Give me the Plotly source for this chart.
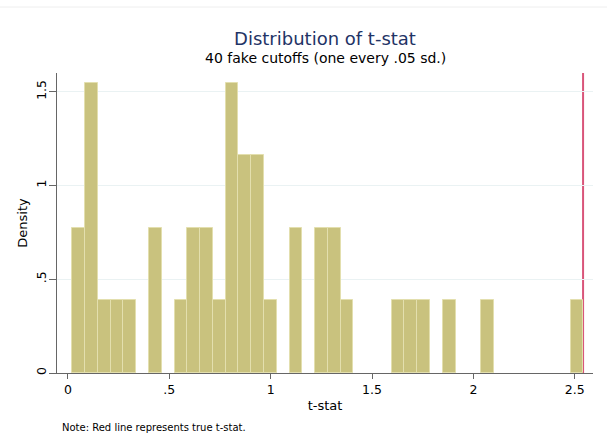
import numpy as np
import plotly.graph_objects as go

# Histogram of the 41 t-statistics: 40 bins starting at 0.022, width 0.063
bin_start = 0.022
bin_width = 0.063
density = [
    0.774, 1.548, 0.387, 0.387, 0.387, 0.0, 0.774, 0.0, 0.387, 0.774,
    0.774, 0.387, 1.548, 1.161, 1.161, 0.387, 0.0, 0.774, 0.0, 0.774,
    0.774, 0.387, 0.0, 0.0, 0.0, 0.387, 0.387, 0.387, 0.0, 0.387,
    0.0, 0.0, 0.387, 0.0, 0.0, 0.0, 0.0, 0.0, 0.0, 0.387,
]
true_tstat = 2.541

x_ticks = [0, 0.5, 1, 1.5, 2, 2.5]
x_ticklabels = ["0", ".5", "1", "1.5", "2", "2.5"]
y_ticks = [0, 0.5, 1, 1.5]
y_ticklabels = ["0", ".5", "1", "1.5"]

centers = bin_start + bin_width * (np.arange(len(density)) + 0.5)
heights = [d if d > 0 else None for d in density]

FONT = "DejaVu Sans, sans-serif"

fig = go.Figure()
fig.add_trace(go.Bar(
    x=centers, y=heights, width=bin_width,
    marker=dict(color="#c9c27e", line=dict(color="#e3dfae", width=1)),
    showlegend=False, hoverinfo="x+y",
))

# true t-stat marker
fig.add_shape(type="line", x0=true_tstat, x1=true_tstat, y0=0, y1=1,
              xref="x", yref="paper", layer="below",
              line=dict(color="#d9557a", width=2))
# thin rule across the top of the page
fig.add_shape(type="line", x0=-57 / 536, x1=1 + 14 / 536, y0=1.22, y1=1.22,
              xref="paper", yref="paper",
              line=dict(color="#eeeeee", width=1))

fig.update_layout(
    width=607, height=439,
    margin=dict(l=57, r=14, t=73, b=66),
    paper_bgcolor="white", plot_bgcolor="white",
    bargap=0,
    font=dict(family=FONT, color="#000000", size=13),
    title=dict(text="Distribution of t-stat", x=0.5, xref="paper",
               y=1 - 38.5 / 439, yref="container", yanchor="middle",
               xanchor="center",
               font=dict(family=FONT, size=18, color="#1f3466")),
    annotations=[
        dict(text="40 fake cutoffs (one every .05 sd.)", x=0.5, y=1.05,
             xref="paper", yref="paper", showarrow=False,
             xanchor="center", yanchor="middle",
             font=dict(family=FONT, size=14, color="#000000")),
        dict(text="Note: Red line represents true t-stat.", x=0.006, y=-0.183,
             xref="paper", yref="paper", showarrow=False,
             xanchor="left", yanchor="middle",
             font=dict(family=FONT, size=10, color="#000000")),
    ],
    xaxis=dict(
        range=[-0.054, 2.59], tickvals=x_ticks, ticktext=x_ticklabels,
        showgrid=False, zeroline=False,
        showline=True, linecolor="#666666", linewidth=1,
        ticks="outside", ticklen=5, tickcolor="#666666",
        tickfont=dict(size=12.5),
        title=dict(text="t-stat", font=dict(size=13), standoff=4),
    ),
    yaxis=dict(
        range=[0, 1.6], tickvals=y_ticks, ticktext=y_ticklabels,
        showgrid=True, gridcolor="#eaf2f3", gridwidth=1, zeroline=False,
        showline=True, linecolor="#666666", linewidth=1,
        ticks="outside", ticklen=7, tickcolor="#666666",
        tickangle=-90, tickfont=dict(size=12.5), ticklabelstandoff=-2,
        title=dict(text="Density", font=dict(size=13), standoff=3),
    ),
)

fig.write_html("out.html")
